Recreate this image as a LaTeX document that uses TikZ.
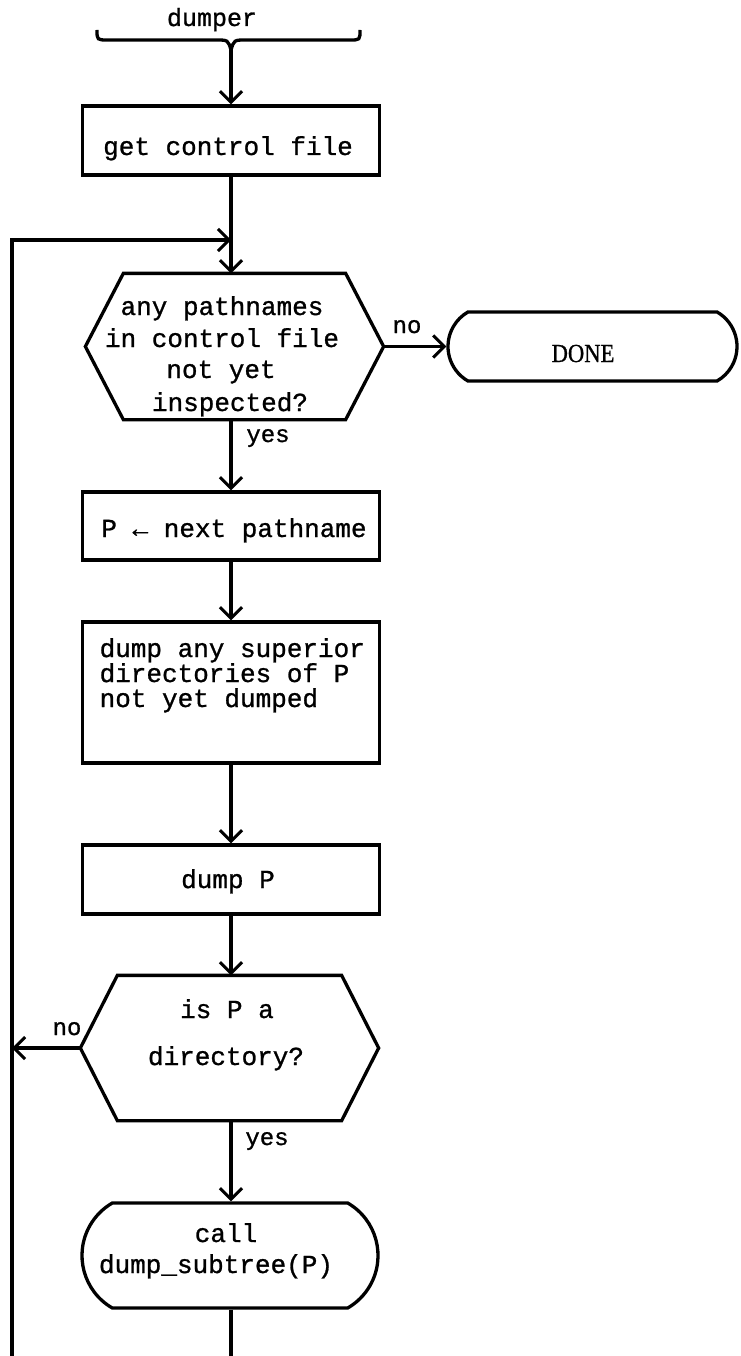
\documentclass[tikz,border=0pt]{standalone}
\usepackage{fontspec}
\setmainfont{Liberation Serif}
\newfontfamily\monofnt[FakeBold=1]{Liberation Mono}
\newfontfamily\donefont[FakeStretch=0.87,FakeBold=0.8]{Liberation Serif}
\usetikzlibrary{arrows.meta,shapes.misc,calc}
\begin{document}
\begin{tikzpicture}[x=1pt,y=-1pt,
  line width=3.3pt,
  arr/.style={-{Straight Barb[length=11pt,width=22pt,line width=3pt]}},
  boxshape/.style={draw, rectangle, minimum width=297pt, inner sep=0pt},
  hexshape/.style={rectangle, minimum width=295pt, inner sep=0pt},
  termshape/.style={draw, rounded rectangle, rounded rectangle arc length=120, inner sep=0pt},
  txt/.style={font=\monofnt\fontsize{26}{26}\selectfont, inner sep=0pt, anchor=base},
  lbl/.style={font=\monofnt\fontsize{24}{24}\selectfont, inner sep=0pt, anchor=base},
]
\useasboundingbox (0,0) rectangle (740,1356);

% title and brace
\node[txt, font=\monofnt\fontsize{25}{25}\selectfont] (dumper) at (212,26) {dumper};
\coordinate (bt) at (231,50);
\draw (97,30) .. controls (97,40) .. (108,40) -- (216,40) .. controls (228,40) .. (bt)
      .. controls (234,40) .. (246,40) -- (350,40) .. controls (360,40) .. (360,30);

% shapes
\node[boxshape, minimum height=69pt] (b1) at (231,140.5) {};
\node[txt] (t1) at (228,155) {get control file};

\node[hexshape, minimum height=143pt] (h1) at (234.5,346.5) {};
\draw ([xshift=38pt]h1.north west) -- ([xshift=-38pt]h1.north east) -- (h1.east)
   -- ([xshift=-38pt]h1.south east) -- ([xshift=38pt]h1.south west) -- (h1.west) -- cycle;
\node[txt] (h1a) at (222,315) {any pathnames};
\node[txt] (h1b) at (222,347) {in control file};
\node[txt] (h1c) at (221,378) {not yet};
\node[txt] (h1d) at (230,411) {inspected?};

\node[termshape, minimum width=289pt, minimum height=69pt] (done) at (592.5,346.5) {};
\node[txt, font=\donefont\fontsize{26}{26}\selectfont] (tdone) at (583,362) {DONE};

\node[boxshape, minimum height=68pt] (b2) at (231,526) {};
\node[txt] (t2) at (234,537) {P ← next pathname};

\node[boxshape, minimum height=141pt] (b3) at (231,692.5) {};
\node[txt, anchor=base west] (t3a) at (98,657) {dump any superior};
\node[txt, anchor=base west] (t3b) at (98,682) {directories of P};
\node[txt, anchor=base west] (t3c) at (98,707) {not yet dumped};

\node[boxshape, minimum height=69pt] (b4) at (231,879.5) {};
\node[txt] (t4) at (228,888) {dump P};

\node[hexshape, minimum height=142pt] (h2) at (229.5,1048) {};
\draw ([xshift=37pt]h2.north west) -- ([xshift=-37pt]h2.north east) -- (h2.east)
   -- ([xshift=-37pt]h2.south east) -- ([xshift=37pt]h2.south west) -- (h2.west) -- cycle;
\node[txt] (h2a) at (227,1018) {is P a};
\node[txt] (h2b) at (226,1065) {directory?};

\node[termshape, minimum width=296pt, minimum height=105pt] (call) at (230,1255.5) {};
\node[txt] (tc1) at (226,1242) {call};
\node[txt] (tc2) at (216,1273) {dump\_subtree(P)};

% labels
\node[lbl] (no1) at (407,333) {no};
\node[lbl] (yes1) at (268,442) {yes};
\node[lbl] (no2) at (67,1035) {no};
\node[lbl] (yes2) at (267,1145) {yes};

% connectors
\coordinate (j) at (231,240);
\coordinate (lt) at (12,240);
\coordinate (lb) at (12,1356);
\draw[arr] (bt) -- (b1.north);
\draw (b1.south) -- (j);
\draw[arr] (j) -- (j |- h1.north);
\draw[arr] (h1.east) -- (done.west);
\draw[arr] (j |- h1.south) -- (b2.north);
\draw[arr] (b2.south) -- (b3.north);
\draw[arr] (b3.south) -- (b4.north);
\draw[arr] (b4.south) -- (j |- h2.north);
\draw[arr] (j |- h2.south) -- (call.north -| j);
\draw[arr] (h2.west) -- (h2.west -| lb);
\draw (call.south -| j) -- (j |- lb);
\draw[arr] (lb) -- (lt) -- (j);
\end{tikzpicture}
\end{document}
